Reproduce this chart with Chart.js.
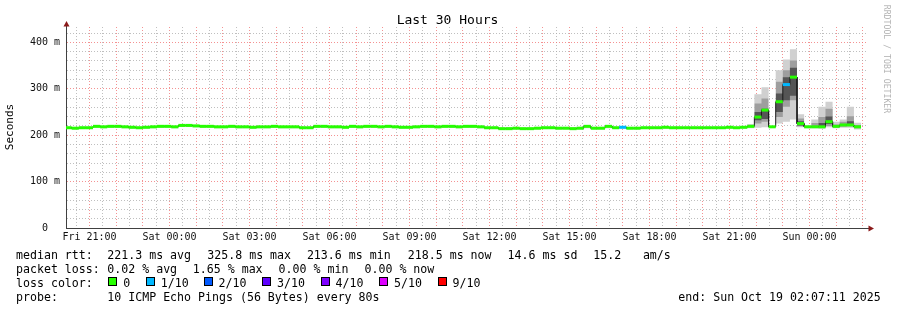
<!DOCTYPE html>
<html>
<head>
<meta charset="utf-8">
<script src="https://cdn.jsdelivr.net/npm/chart.js@4.4.1/dist/chart.umd.min.js"></script>
<style>
  body { margin: 0; background: #fff; }
  #wrap { position: relative; width: 897px; height: 310px; font-family: "DejaVu Sans Mono", monospace; color: #000; overflow: hidden; }
  #wrap canvas { position: absolute; left: 0; top: 0; }
  .t { position: absolute; white-space: pre; font-size: 11.6px; line-height: 14px; }
  .box { position: absolute; width: 9px; height: 9px; box-sizing: border-box; border: 1px solid #000; }
  #title { position: absolute; left: 0; top: 11.5px; width: 895px; text-align: center; font-size: 13px; line-height: 16px; }
  #ylab { position: absolute; left: -20px; top: 120px; width: 60px; height: 14px; text-align: center; font-size: 11px; line-height: 14px; transform: rotate(-90deg); }
  #credit { position: absolute; left: 822px; top: 54px; width: 130px; height: 10px; text-align: center; font-size: 8.2px; line-height: 10px; color: #b4b4b4; transform: rotate(90deg); }
</style>
</head>
<body>
<div id="wrap">
  <canvas id="c" width="897" height="310"></canvas>
  <div id="title">Last 30 Hours</div>
  <div id="ylab">Seconds</div>
  <div id="credit">RRDTOOL / TOBI OETIKER</div>

  <div class="t" style="left:16px;top:247.5px">median rtt:</div>
  <div class="t" style="left:107.3px;top:247.5px">221.3 ms avg</div>
  <div class="t" style="left:207.3px;top:247.5px">325.8 ms max</div>
  <div class="t" style="left:306.9px;top:247.5px">213.6 ms min</div>
  <div class="t" style="left:407.8px;top:247.5px">218.5 ms now</div>
  <div class="t" style="left:507.6px;top:247.5px">14.6 ms sd</div>
  <div class="t" style="left:593.3px;top:247.5px">15.2</div>
  <div class="t" style="left:642.9px;top:247.5px">am/s</div>

  <div class="t" style="left:16px;top:261.6px">packet loss:</div>
  <div class="t" style="left:107.3px;top:261.6px">0.02 % avg</div>
  <div class="t" style="left:192.8px;top:261.6px">1.65 % max</div>
  <div class="t" style="left:278.6px;top:261.6px">0.00 % min</div>
  <div class="t" style="left:364.5px;top:261.6px">0.00 % now</div>

  <div class="t" style="left:16px;top:275.7px">loss color:</div>
  <div id="losslegend"></div>

  <div class="t" style="left:16px;top:289.8px">probe:</div>
  <div class="t" style="left:107.3px;top:289.8px">10 ICMP Echo Pings (56 Bytes) every 80s</div>
  <div class="t" style="left:678.3px;top:289.8px">end: Sun Oct 19 02:07:11 2025</div>
</div>
<script>
// time axis: minutes after Fri 20:07:11, 30 hours shown
const spanMinutes = 1800;
const binStep = 16;         // one RRA row = 12 pings x 80 s
const firstEdge = 12.82;    // first row boundary after the window start

const xLabelMinutes = [52.82, 232.82, 412.82, 592.82, 772.82, 952.82, 1132.82, 1312.82, 1492.82, 1672.82];
const xTickLabels = ["Fri 21:00", "Sat 00:00", "Sat 03:00", "Sat 06:00", "Sat 09:00",
                     "Sat 12:00", "Sat 15:00", "Sat 18:00", "Sat 21:00", "Sun 00:00"];
const yTickValues = [0, 100, 200, 300, 400];
const yTickLabels = ["0  ", "100 m", "200 m", "300 m", "400 m"];

// median rtt per row (ms)
const median = [
  216,215,216,216,219,218,219,219,218,217,
  216,217,218,219,219,218,221,221,220,219,
  219,218,218,219,218,218,217,218,218,219,
  218,218,218,216,216,219,219,218,218,217,
  219,218,219,219,218,219,218,217,217,218,
  219,219,218,219,219,218,219,219,218,216,
  216,214,214,215,214,214,215,216,216,215,
  215,214,215,219,215,215,219,216,217,215,
  215,216,216,216,217,216,216,216,216,216,
  216,216,216,217,216,217,219,239,254,218,
  272,309,325,225,218,218,218,229,219,222,
  222,218
];
// fastest / slowest ping per row (ms)
const pingMin = [
  213,212,213,213,216,215,216,216,215,214,
  213,214,215,216,216,215,218,218,217,216,
  216,215,215,216,215,215,214,215,215,216,
  215,215,215,213,213,216,216,215,215,214,
  216,215,216,216,215,216,215,214,214,215,
  216,216,215,216,216,215,216,216,215,213,
  213,211,211,212,211,211,212,213,213,212,
  212,211,212,215,212,212,215,213,214,212,
  212,213,213,213,214,213,213,213,213,213,
  213,213,213,214,213,214,215,216,217,216,
  225,229,234,217,215,215,214,217,215,216,
  216,212
];
const pingMax = [
  218,217,218,218,221,220,221,221,220,219,
  218,219,220,221,221,220,223,223,222,221,
  221,220,220,221,220,220,219,220,220,221,
  220,220,220,218,218,221,221,220,220,219,
  221,220,221,221,220,221,220,219,219,220,
  221,221,220,221,221,220,221,221,220,218,
  218,216,217,217,216,216,217,218,218,217,
  217,217,217,221,217,217,221,218,219,217,
  217,218,218,218,219,218,218,218,218,218,
  218,218,218,219,218,219,224,288,303,220,
  340,363,385,245,221,234,261,272,229,234,
  261,227
];
// denser smoke in the last rows (from row 95)
const spikeFirst = 95;
const midLo  = [null,null,225,229,null,239,261,275,219,null,216,216,220,217,218,219,215];
const midHi  = [null,null,268,279,null,315,340,361,236,null,226,239,257,223,229,241,222];
const coreLo = [null,null,232,235,null,250,275,285,221,null,null,217,224,null,null,220,null];
const coreHi = [null,null,250,257,null,290,325,345,230,null,null,226,240,null,null,230,null];

// rows with lost pings (tenths)
const lossRows = [78, 101];
const lossTenths = [1, 1];
const lossSteps = [0, 1, 2, 3, 4, 5, 9];
const lossLabels = ["0", "1/10", "2/10", "3/10", "4/10", "5/10", "9/10"];
const lossColors = ["#26ff00", "#00b8ff", "#0059ff", "#5e00ff", "#7e00ff", "#dd00ff", "#ff0000"];

// loss colour legend
const boxLeft = [108.3, 145.7, 203.5, 262, 320.5, 379, 437.5];
const leg = document.getElementById("losslegend");
lossLabels.forEach((lab, i) => {
  const b = document.createElement("div");
  b.className = "box";
  b.style.left = boxLeft[i] + "px";
  b.style.top = "277px";
  b.style.background = lossColors[i];
  leg.appendChild(b);
  const t = document.createElement("div");
  t.className = "t";
  t.style.left = (boxLeft[i] + 15) + "px";
  t.style.top = "275.7px";
  t.textContent = lab;
  leg.appendChild(t);
});

function binRange(k) {
  const s = k === 0 ? 0 : firstEdge + binStep * (k - 1);
  return [s, firstEdge + binStep * k];
}
function steps(vals, from) {
  const pts = [];
  vals.forEach((v, i) => {
    const [s, e] = binRange(from + i);
    pts.push({x: s, y: v}, {x: e, y: v});
  });
  return pts;
}
function pieces(vals) {
  const pts = [];
  vals.forEach((v, i) => {
    const [s, e] = binRange(i);
    pts.push({x: s, y: v}, {x: e, y: v}, {x: e, y: null});
  });
  return pts;
}
function rowColor(i) {
  const j = lossRows.indexOf(i);
  const tenths = j < 0 ? 0 : lossTenths[j];
  return lossColors[lossSteps.indexOf(tenths)];
}
const band = (data, extra) => Object.assign({data, borderWidth: 0, pointRadius: 0, fill: false, spanGaps: false}, extra);

const gridMinutes = [];
for (let m = 22.82; m < spanMinutes; m += 30) gridMinutes.push(m);
const yGrid = [];
for (let v = 0; v <= 420; v += 20) yGrid.push(v);

const RED = "rgba(240,110,110,0.75)";
const GRAY = "rgba(170,170,170,0.75)";

const arrows = {
  id: "arrows",
  afterDraw(chart) {
    const {ctx, chartArea: a} = chart;
    ctx.save();
    ctx.strokeStyle = "#404040";
    ctx.lineWidth = 1;
    ctx.beginPath();
    ctx.moveTo(a.left + 0.5, a.top);
    ctx.lineTo(a.left + 0.5, a.top - 3);
    ctx.moveTo(a.right, a.bottom + 0.5);
    ctx.lineTo(a.right + 4, a.bottom + 0.5);
    ctx.stroke();
    ctx.fillStyle = "#8b1a1a";
    ctx.beginPath();
    ctx.moveTo(a.left + 0.5, a.top - 6);
    ctx.lineTo(a.left - 2.5, a.top - 0.5);
    ctx.lineTo(a.left + 3.5, a.top - 0.5);
    ctx.closePath();
    ctx.fill();
    ctx.beginPath();
    ctx.moveTo(a.right + 8, a.bottom + 0.5);
    ctx.lineTo(a.right + 2.5, a.bottom - 2.5);
    ctx.lineTo(a.right + 2.5, a.bottom + 3.5);
    ctx.closePath();
    ctx.fill();
    ctx.restore();
  }
};

Chart.defaults.font.family = '"DejaVu Sans Mono", monospace';

new Chart(document.getElementById("c"), {
  type: "line",
  data: {
    datasets: [
      {data: pieces(median), borderWidth: 3, pointRadius: 0, borderCapStyle: "butt", spanGaps: false,
       borderColor: lossColors[0], segment: {borderColor: c => rowColor(Math.floor(c.p0DataIndex / 3))}},
      {data: steps(median, 0), borderWidth: 1, borderColor: "#1a1a1a", pointRadius: 0},
      band(steps(coreHi, spikeFirst), {fill: 3, backgroundColor: "#555555"}),
      band(steps(coreLo, spikeFirst)),
      band(steps(midHi, spikeFirst), {fill: 5, backgroundColor: "#9e9e9e"}),
      band(steps(midLo, spikeFirst)),
      band(steps(pingMax, 0), {fill: 7, backgroundColor: "#d0d0d0"}),
      band(steps(pingMin, 0))
    ]
  },
  options: {
    responsive: false,
    devicePixelRatio: 1,
    animation: false,
    layout: {padding: {top: 27, right: 31, bottom: 62, left: 0}},
    plugins: {legend: {display: false}, title: {display: false}, tooltip: {enabled: false}},
    elements: {line: {tension: 0}},
    scales: {
      x: {
        type: "linear", min: 0, max: spanMinutes,
        afterFit: s => { s.height = 20; },
        afterBuildTicks: s => { s.ticks = gridMinutes.map(v => ({value: v})); },
        grid: {color: c => (Math.round((c.tick.value - 22.82) / 30) % 2 === 1 ? RED : GRAY), drawTicks: false, lineWidth: 1},
        border: {color: "#404040", width: 1, dash: [1, 2]},
        ticks: {
          autoSkip: false, maxRotation: 0, padding: 3, color: "#111", font: {size: 10},
          callback: v => {
            const i = xLabelMinutes.findIndex(m => Math.abs(m - v) < 0.01);
            return i < 0 ? "" : xTickLabels[i];
          }
        }
      },
      y: {
        min: 0, max: 433,
        afterFit: s => { s.width = 66; },
        afterBuildTicks: s => { s.ticks = yGrid.map(v => ({value: v})); },
        grid: {color: c => (c.tick.value % 100 === 0 ? RED : GRAY), drawTicks: false, lineWidth: 1},
        border: {color: "#404040", width: 1, dash: [1, 2]},
        ticks: {
          autoSkip: false, padding: 6, color: "#111", font: {size: 10},
          callback: v => {
            const i = yTickValues.indexOf(v);
            return i < 0 ? "" : yTickLabels[i];
          }
        }
      }
    }
  },
  plugins: [arrows]
});
</script>
</body>
</html>
